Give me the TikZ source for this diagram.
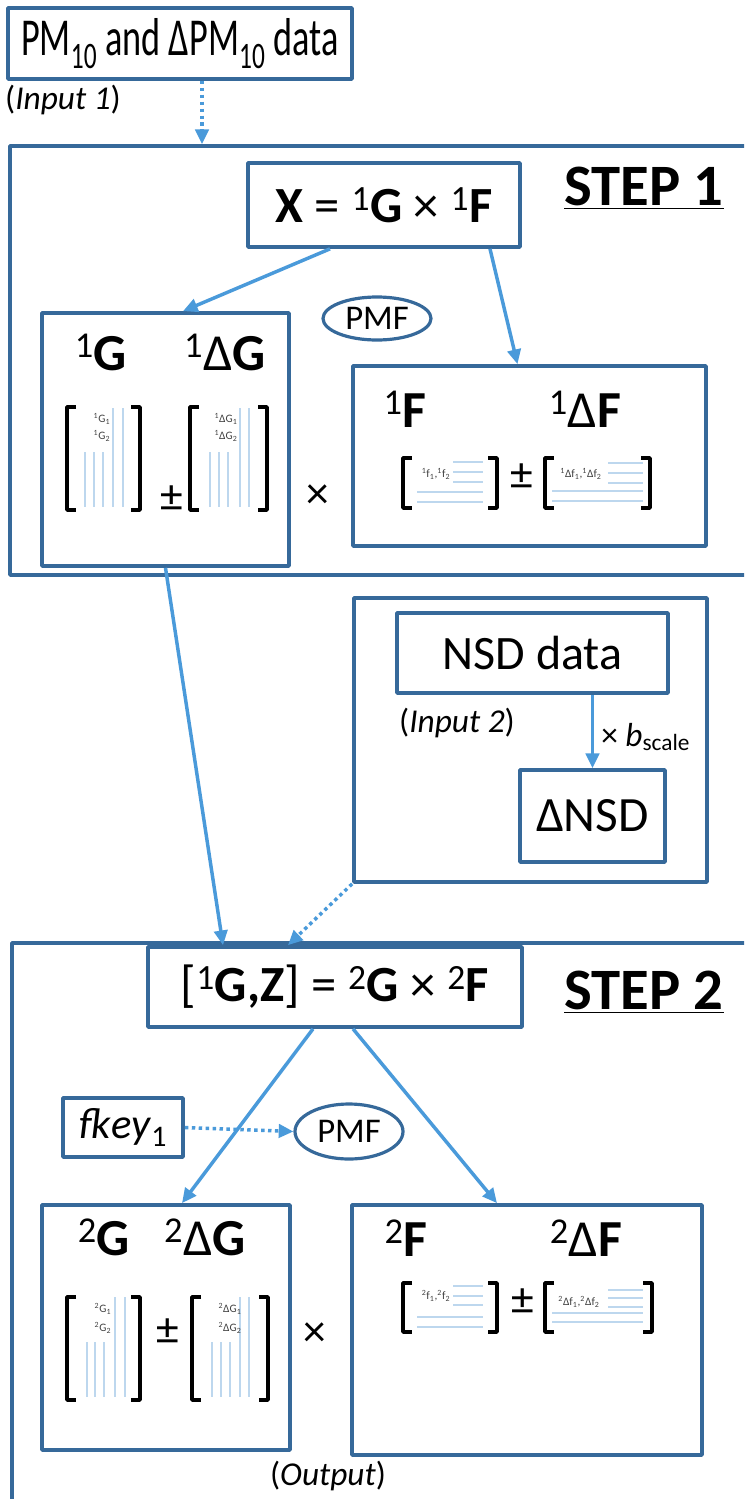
\documentclass[tikz,border=0pt]{standalone}
\usepackage{fontspec}
\setmainfont{Carlito}
\usetikzlibrary{arrows.meta,shapes.geometric,calc}
\definecolor{boxblue}{HTML}{36699A}
\definecolor{arrblue}{HTML}{4A9ADA}
\definecolor{gridblue}{HTML}{BDD7EE}
\definecolor{smallgray}{HTML}{404040}
\newcommand{\fsz}[1]{\fontsize{#1}{#1}\selectfont}
% bracket pair: left x, right x, top y, bottom y
\newcommand{\brpair}[4]{%
  \draw[brk] ({#1+9},#3) -- (#1,#3) -- (#1,#4) -- ({#1+9},#4);
  \draw[brk] ({#2-9},#3) -- (#2,#3) -- (#2,#4) -- ({#2-9},#4);}
\tikzset{
  wh/.style 2 args={minimum width=#1*0.75pt, minimum height=#2*0.75pt},
  framebox/.style={draw=boxblue, line width=2.8pt, inner sep=0pt},
  pmfnode/.style={ellipse, draw=boxblue, line width=2.4pt, inner sep=0pt, font=\fsz{26pt}},
  lbl/.style={inner sep=0pt, font=\fsz{25pt}},
  biglbl/.style={inner sep=0pt, anchor=base, font=\fsz{39pt}},
  steplbl/.style={inner sep=0pt, font=\fsz{44pt}\bfseries},
  oplbl/.style={inner sep=0pt, font=\fsz{34pt}},
  tiny/.style={inner sep=0pt, font=\fsz{8.5pt}, text=smallgray},
  flow/.style={draw=arrblue, line width=2.6pt, -{Triangle[length=11pt,width=10pt]}},
  dotflow/.style={flow, dash pattern=on 2.6pt off 2.6pt},
  brk/.style={draw=black, line width=2.8pt, line cap=butt},
  grid/.style={draw=gridblue, line width=0.9pt}
}
\begin{document}
\begin{tikzpicture}[x=0.75pt, y=-0.75pt, line join=round]
\useasboundingbox (0,0) rectangle (744,1499);
\clip (0,0) rectangle (744,1499);
% outer frames
\node[framebox, wh={750}{429}] (step1) at (385,360.5) {};
\node[framebox, wh={748}{587}] (step2) at (386,1236.5) {};
\node[framebox, wh={353}{284}] (nsdframe) at (530.5,740) {};
\node[steplbl] (s1) at (644,188) {\underline{STEP 1}};
\node[steplbl] (s2) at (644,992) {\underline{STEP 2}};

% input 1
\node[framebox, wh={344}{71}, font=\fsz{40pt}] (pm) at (180,43.5)
  {\scalebox{0.68}[1]{PM\textsubscript{10} and ΔPM\textsubscript{10} data}};
\node[lbl] (in1) at (63,100) {(\textit{Input 1})};
\coordinate (in1tip) at ($(pm.south)+(22,0)$);

% step 1
\node[framebox, wh={272}{84}, font=\fsz{38pt}] (xeq) at (384,205)
  {\textbf{X} = \textsuperscript{1}\textbf{G} × \textsuperscript{1}\textbf{F}};
\node[pmfnode, wh={108}{43}] (pmf1) at (377,318.5) {PMF};
\node[framebox, wh={247}{253}] (gbox1) at (165.5,439.5) {};
\node[framebox, wh={353}{180}] (fbox1) at (529.5,456) {};
\node[oplbl] (x1) at (318,497) {×};

\node[biglbl] (g1) at (101,370) {\textsuperscript{1}\textbf{G}};
\node[biglbl] (dg1) at (225,370) {\textsuperscript{1}Δ\textbf{G}};
\brpair{67}{140}{407}{510}
\brpair{190}{267}{407}{510}
\foreach \gx in {85,94,103,210,219,228} \draw[grid] (\gx,452) -- (\gx,507);
\foreach \gx in {113,123,240,249} \draw[grid] (\gx,408) -- (\gx,507);
\node[tiny] (g11) at (102,419) {\textsuperscript{1}G\textsubscript{1}};
\node[tiny] (g12) at (102,436) {\textsuperscript{1}G\textsubscript{2}};
\node[tiny] (dg11) at (226,419) {\textsuperscript{1}ΔG\textsubscript{1}};
\node[tiny] (dg12) at (226,436) {\textsuperscript{1}ΔG\textsubscript{2}};
\node[oplbl] (pmg1) at (172,499) {±};

\node[biglbl] (f1) at (405,427) {\textsuperscript{1}\textbf{F}};
\node[biglbl] (df1) at (585,427) {\textsuperscript{1}Δ\textbf{F}};
\brpair{403}{497}{458}{508}
\brpair{545}{650}{458}{508}
\foreach \fy in {462,472,482} \draw[grid] (453,\fy) -- (483,\fy);
\foreach \fy in {492,502} \draw[grid] (417,\fy) -- (483,\fy);
\foreach \fy in {463,473,483} \draw[grid] (608,\fy) -- (643,\fy);
\foreach \fy in {491,501} \draw[grid] (552,\fy) -- (643,\fy);
\node[tiny] (f11) at (436,474) {\textsuperscript{1}f\textsubscript{1},\textsuperscript{1}f\textsubscript{2}};
\node[tiny] (df11) at (581,474) {\textsuperscript{1}Δf\textsubscript{1},\textsuperscript{1}Δf\textsubscript{2}};
\node[oplbl] (pmf1s) at (522,477) {±};

% input 2
\node[framebox, wh={271}{80}, font=\fsz{36pt}] (nsd) at (532.5,653) {NSD data};
\node[lbl] (in2) at (457,723) {(\textit{Input 2})};
\node[framebox, wh={145}{92}, font=\fsz{37pt}] (dnsd) at (592.5,816) {ΔNSD};
\node[lbl, anchor=west] (bsc) at (601,737) {× \textit{b}\textsubscript{scale}};

% step 2
\node[framebox, wh={374}{80}, font=\fsz{38pt}] (zeq) at (335,987)
  {[\textsuperscript{1}\textbf{G,Z}] = \textsuperscript{2}\textbf{G} × \textsuperscript{2}\textbf{F}};
\node[framebox, wh={120}{59}, font=\fsz{32pt}] (fkey) at (123,1127.5) {\textit{fkey}\textsubscript{1}};
\node[pmfnode, wh={108}{55}] (pmf2) at (349,1131.5) {PMF};
\node[framebox, wh={248}{245}] (gbox2) at (166,1327.5) {};
\node[framebox, wh={350}{250}] (fbox2) at (527,1330) {};
\node[oplbl] (x2) at (315,1335) {×};

\node[biglbl] (g2) at (104,1255) {\textsuperscript{2}\textbf{G}};
\node[biglbl] (dg2) at (205,1255) {\textsuperscript{2}Δ\textbf{G}};
\brpair{67}{140}{1297}{1400}
\brpair{192}{268}{1297}{1400}
\foreach \gx in {87,95,104,212,221,230} \draw[grid] (\gx,1342) -- (\gx,1397);
\foreach \gx in {115,125,240,249} \draw[grid] (\gx,1297) -- (\gx,1397);
\node[tiny] (g21) at (103,1309) {\textsuperscript{2}G\textsubscript{1}};
\node[tiny] (g22) at (103,1328) {\textsuperscript{2}G\textsubscript{2}};
\node[tiny] (dg21) at (230,1309) {\textsuperscript{2}ΔG\textsubscript{1}};
\node[tiny] (dg22) at (230,1328) {\textsuperscript{2}ΔG\textsubscript{2}};
\node[oplbl] (pmg2) at (168,1332) {±};

\node[biglbl] (f2) at (406,1256) {\textsuperscript{2}\textbf{F}};
\node[biglbl] (df2) at (586,1256) {\textsuperscript{2}Δ\textbf{F}};
\brpair{403}{497}{1283}{1332}
\brpair{545}{652}{1283}{1332}
\foreach \fy in {1286,1296,1305} \draw[grid] (453,\fy) -- (483,\fy);
\foreach \fy in {1317,1327} \draw[grid] (417,\fy) -- (483,\fy);
\foreach \fy in {1290,1298,1307} \draw[grid] (608,\fy) -- (643,\fy);
\foreach \fy in {1313,1322} \draw[grid] (552,\fy) -- (643,\fy);
\node[tiny] (f21) at (436,1296) {\textsuperscript{2}f\textsubscript{1},\textsuperscript{2}f\textsubscript{2}};
\node[tiny] (df21) at (579,1302) {\textsuperscript{2}Δf\textsubscript{1},\textsuperscript{2}Δf\textsubscript{2}};
\node[oplbl] (pmf2s) at (523,1302) {±};
\node[lbl] (out) at (328,1476) {(\textit{Output})};

% connectors
\draw[dotflow] (in1tip) -- (in1tip |- step1.north);
\draw[flow] ($(xeq.south)+(-54,0)$) -- ($(gbox1.north)+(17.5,0)$);
\draw[flow] ($(xeq.south)+(106,0)$) -- ($(fbox1.north)+(-12,0)$);
\draw[flow] (nsd.south -| dnsd.north) -- (dnsd.north);
\draw[flow] (gbox1.south) -- ($(zeq.north)+(-112,0)$);
\draw[dotflow] (nsdframe.south west) -- ($(zeq.north)+(-47,0)$);
\draw[flow] ($(zeq.south)+(-22,0)$) -- ($(gbox2.north)+(16,0)$);
\draw[flow] ($(zeq.south)+(18,0)$) -- ($(fbox2.north)+(-30,0)$);
\draw[dotflow] (fkey.east) -- (pmf2.west);
\end{tikzpicture}
\end{document}
